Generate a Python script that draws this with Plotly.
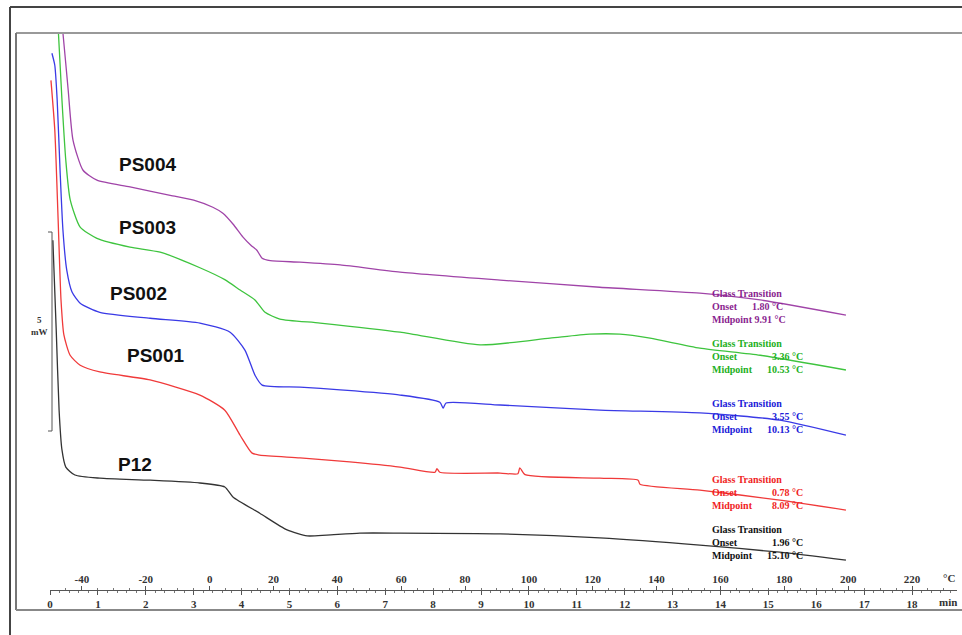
import plotly.graph_objects as go

# ---------------- data (time in min, heat flow in mW, arbitrary offset) -------------
ps004_t = [0.21, 0.27, 0.38, 0.48, 0.69, 0.98, 1.67, 2.51, 3.00, 3.40, 3.61, 3.82, 4.03, 4.20, 4.32, 4.43, 4.60, 5.22, 6.06, 7.31, 9.40, 11.48, 13.57, 14.83, 16.62]
ps004_y = [14.6, 14.0, 12.56, 11.31, 10.55, 10.30, 10.13, 9.92, 9.80, 9.62, 9.47, 9.20, 8.87, 8.66, 8.54, 8.34, 8.28, 8.24, 8.17, 7.99, 7.79, 7.61, 7.46, 7.29, 6.91]

ps003_t = [0.15, 0.25, 0.33, 0.42, 0.63, 0.98, 1.67, 2.30, 3.13, 3.65, 3.97, 4.28, 4.49, 4.80, 5.64, 7.31, 8.98, 10.44, 11.27, 11.90, 12.53, 13.57, 14.83, 16.62]
ps003_y = [14.6, 12.31, 10.80, 9.82, 9.12, 8.84, 8.62, 8.49, 8.10, 7.80, 7.54, 7.29, 6.98, 6.81, 6.71, 6.48, 6.16, 6.33, 6.43, 6.43, 6.33, 6.08, 5.90, 5.53]

ps002_t = [0.04, 0.10, 0.15, 0.21, 0.27, 0.35, 0.46, 0.63, 1.04, 2.09, 3.13, 3.76, 4.07, 4.28, 4.43, 5.22, 6.06, 7.31, 8.14, 8.21, 8.27, 9.40, 11.48, 13.57, 15.24, 16.62]
ps002_y = [13.49, 13.19, 12.31, 10.55, 9.05, 8.04, 7.49, 7.21, 6.98, 6.83, 6.71, 6.48, 6.03, 5.40, 5.15, 5.10, 5.03, 4.90, 4.72, 4.57, 4.70, 4.65, 4.52, 4.45, 4.27, 3.89]

ps001_t = [0.02, 0.10, 0.17, 0.23, 0.29, 0.42, 0.63, 1.04, 2.09, 3.13, 3.65, 3.97, 4.22, 4.38, 5.22, 6.26, 7.31, 8.04, 8.08, 8.14, 9.40, 9.77, 9.81, 9.92, 11.48, 12.28, 12.32, 13.57, 15.24, 16.62]
ps001_y = [12.81, 11.56, 9.30, 7.29, 6.41, 5.90, 5.65, 5.48, 5.28, 4.90, 4.52, 3.89, 3.44, 3.39, 3.32, 3.22, 3.09, 2.96, 3.05, 2.96, 2.94, 2.92, 3.07, 2.90, 2.81, 2.76, 2.66, 2.51, 2.26, 2.01]

p12_t = [0.06, 0.13, 0.19, 0.25, 0.33, 0.52, 1.04, 2.09, 3.13, 3.65, 3.82, 4.38, 4.95, 5.37, 5.78, 6.47, 7.31, 9.40, 11.48, 13.57, 15.24, 16.62]
p12_y = [8.79, 6.53, 4.52, 3.52, 3.09, 2.89, 2.81, 2.76, 2.69, 2.59, 2.34, 1.93, 1.51, 1.36, 1.38, 1.43, 1.43, 1.41, 1.31, 1.13, 0.95, 0.75]

sample_names = ["PS004", "PS003", "PS002", "PS001", "P12"]
onset_text = ["1.80 °C", "3.36 °C", "3.55 °C", "0.78 °C", "1.96 °C"]
midpoint_text = ["9.91 °C", "10.53 °C", "10.13 °C", "8.09 °C", "15.10 °C"]

min_ticks = list(range(0, 19))
degc_ticks = list(range(-40, 221, 20))

# ---------------- layout helpers (pixel -> paper) ----------------
W, H = 962, 635
L, R, T, B = 50, 5, 33, 45
PW, PH = W - L - R, H - T - B


def px(x):
    return (x - L) / PW


def py(y):
    return (H - B - y) / PH


line_colors = ["#a044a8", "#3ec43e", "#3a3ae6", "#f03a3a", "#333333"]
text_colors = ["#8a1f8f", "#22b022", "#2020d8", "#f01e1e", "#111111"]

fig = go.Figure()
series = [(ps004_t, ps004_y), (ps003_t, ps003_y), (ps002_t, ps002_y), (ps001_t, ps001_y), (p12_t, p12_y)]
for (tt, yy), c, n in zip(series, line_colors, sample_names):
    fig.add_trace(go.Scatter(x=tt, y=yy, mode="lines",
                             line=dict(color=c, width=1.3, shape="spline", smoothing=0.6),
                             name=n, showlegend=False, hoverinfo="skip"))

# dummy trace on the °C axis
fig.add_trace(go.Scatter(x=[-50], y=[-1], xaxis="x2", mode="markers",
                         marker=dict(opacity=0), showlegend=False, hoverinfo="skip"))

tick_font = dict(family="Liberation Serif", size=11, color="#333")
tmax = (W - R - L) / 47.89
fig.update_layout(
    width=W, height=H, autosize=False,
    margin=dict(l=L, r=R, t=T, b=B),
    paper_bgcolor="white", plot_bgcolor="white",
    xaxis=dict(range=[0, tmax], tickvals=min_ticks, ticktext=["<b>%d</b>" % v for v in min_ticks],
               showgrid=False, zeroline=False, showline=True, linecolor="#555", linewidth=1,
               ticks="outside", ticklen=4, tickcolor="#555",
               minor=dict(dtick=0.2, ticks="outside", ticklen=2, tickcolor="#777"),
               tickfont=tick_font),
    xaxis2=dict(range=[-50, -50 + 15 * tmax], overlaying="x", anchor="y", side="bottom",
                tickvals=degc_ticks, ticktext=["<b>%d</b>" % v for v in degc_ticks],
                showgrid=False, zeroline=False, showline=False,
                ticks="inside", ticklen=4, tickcolor="#555", ticklabelposition="inside",
                minor=dict(dtick=5, ticks="inside", ticklen=2, tickcolor="#777"),
                tickfont=tick_font),
    yaxis=dict(range=[0, 14], visible=False),
)

ann = []


def add_text(x, y, text, font, xanchor="center", align="center"):
    ann.append(dict(x=px(x), y=py(y), xref="paper", yref="paper", text=text, showarrow=False,
                    xanchor=xanchor, yanchor="middle", align=align, font=font))


# unit labels
add_text(949, 578, "<b>°C</b>", tick_font)
add_text(948, 602, "<b>min</b>", tick_font)

# sample labels
label_pos = [(147, 165), (147, 228), (138, 293), (155, 355), (135, 465)]
for (lx, ly), n in zip(label_pos, sample_names):
    add_text(lx, ly, "<b>%s</b>" % n, dict(family="Liberation Sans", size=19, color="#111"))

# glass transition blocks (one text block each)
block_mid = [306, 356, 416, 492, 542]
onset_gap = [6, 14, 14, 14, 14]
mid_gap = [1, 6, 6, 8, 6]
for i in range(5):
    f = dict(family="Liberation Serif", size=10, color=text_colors[i])
    txt = ("<b>Glass Transition</b><br><b>Onset" + "&nbsp;" * onset_gap[i] + onset_text[i] +
           "</b><br><b>Midpoint" + "&nbsp;" * mid_gap[i] + midpoint_text[i] + "</b>")
    add_text(710, block_mid[i], txt, f, "left", "left")

# scale bar text
add_text(39, 326, "<b>5<br>mW</b>", dict(family="Liberation Serif", size=9, color="#333"))
fig.update_layout(annotations=ann)

shapes = []


def seg(x0, y0, x1, y1, color, width):
    shapes.append(dict(type="line", xref="paper", yref="paper", x0=px(x0), y0=py(y0), x1=px(x1), y1=py(y1),
                       line=dict(color=color, width=width)))


# frame
seg(10, 7, 962, 7, "#444", 2)
seg(10, 7, 10, 635, "#444", 2)
seg(16, 33, 962, 33, "#999", 2)
seg(16, 33, 16, 610, "#777", 2)
seg(16, 610, 962, 610, "#888", 2)
# 5 mW scale bracket
seg(52, 232, 52, 431, "#555", 1)
seg(48, 232, 52, 232, "#555", 1)
seg(48, 431, 52, 431, "#555", 1)
fig.update_layout(shapes=shapes)

fig.write_html("out.html")
